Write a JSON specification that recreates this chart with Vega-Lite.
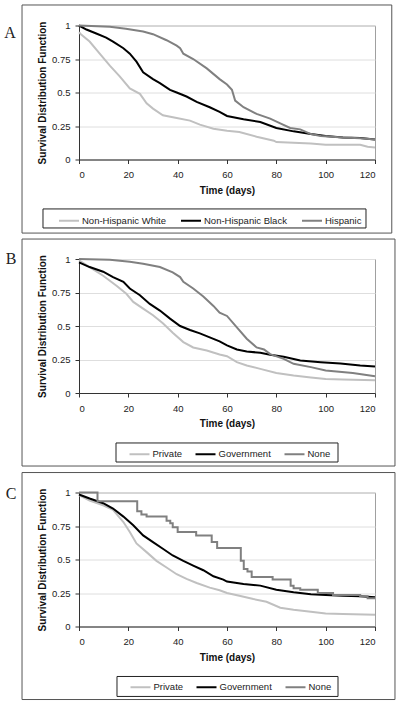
{
  "$schema": "https://vega.github.io/schema/vega-lite/v6.json",
  "autosize": {"type": "pad"},
  "padding": {"left": 3, "top": 3.5, "right": 0, "bottom": 0},
  "spacing": 3.5,
  "config": {
    "font": "Liberation Sans",
    "view": {"stroke": "#a0a0a0", "strokeWidth": 1},
    "axis": {
      "domainColor": "#333333", "tickColor": "#333333", "tickSize": 4,
      "labelFont": "Liberation Sans", "labelFontSize": 9.5, "labelColor": "#222222",
      "titleFont": "Liberation Sans", "titleFontSize": 10, "titleFontWeight": "bold", "titleColor": "#111111"
    },
    "axisX": {"grid": false, "labelPadding": 6, "titlePadding": 6},
    "axisY": {"grid": true, "gridColor": "#dedede", "labelPadding": 5, "titlePadding": 4},
    "legend": {"labelFont": "Liberation Sans", "labelFontSize": 9.5, "labelColor": "#222222"}
  },
  "resolve": {"scale": {"color": "independent"}, "legend": {"color": "independent"}},
  "datasets": {
    "A": [
      {"t":0,"s":0.95,"g":"Non-Hispanic White"},{"t":1,"s":0.93,"g":"Non-Hispanic White"},{"t":4.3,"s":0.88,"g":"Non-Hispanic White"},{"t":8.4,"s":0.79,"g":"Non-Hispanic White"},{"t":12.5,"s":0.7,"g":"Non-Hispanic White"},{"t":16.5,"s":0.62,"g":"Non-Hispanic White"},{"t":20.6,"s":0.53,"g":"Non-Hispanic White"},{"t":24.7,"s":0.49,"g":"Non-Hispanic White"},{"t":27.4,"s":0.42,"g":"Non-Hispanic White"},{"t":30,"s":0.38,"g":"Non-Hispanic White"},{"t":34,"s":0.33,"g":"Non-Hispanic White"},{"t":39.6,"s":0.31,"g":"Non-Hispanic White"},{"t":45,"s":0.29,"g":"Non-Hispanic White"},{"t":49,"s":0.26,"g":"Non-Hispanic White"},{"t":54.5,"s":0.23,"g":"Non-Hispanic White"},{"t":60,"s":0.215,"g":"Non-Hispanic White"},{"t":65,"s":0.205,"g":"Non-Hispanic White"},{"t":72,"s":0.17,"g":"Non-Hispanic White"},{"t":79,"s":0.14,"g":"Non-Hispanic White"},{"t":80,"s":0.13,"g":"Non-Hispanic White"},{"t":94,"s":0.12,"g":"Non-Hispanic White"},{"t":100,"s":0.11,"g":"Non-Hispanic White"},{"t":114,"s":0.11,"g":"Non-Hispanic White"},{"t":117,"s":0.095,"g":"Non-Hispanic White"},{"t":120,"s":0.09,"g":"Non-Hispanic White"},
      {"t":0,"s":1.0,"g":"Non-Hispanic Black"},{"t":3,"s":0.97,"g":"Non-Hispanic Black"},{"t":7,"s":0.94,"g":"Non-Hispanic Black"},{"t":11,"s":0.91,"g":"Non-Hispanic Black"},{"t":13.8,"s":0.88,"g":"Non-Hispanic Black"},{"t":18,"s":0.83,"g":"Non-Hispanic Black"},{"t":20.6,"s":0.79,"g":"Non-Hispanic Black"},{"t":23.3,"s":0.73,"g":"Non-Hispanic Black"},{"t":26,"s":0.65,"g":"Non-Hispanic Black"},{"t":30,"s":0.6,"g":"Non-Hispanic Black"},{"t":32.8,"s":0.57,"g":"Non-Hispanic Black"},{"t":36.9,"s":0.52,"g":"Non-Hispanic Black"},{"t":39.6,"s":0.5,"g":"Non-Hispanic Black"},{"t":43.6,"s":0.47,"g":"Non-Hispanic Black"},{"t":47.7,"s":0.43,"g":"Non-Hispanic Black"},{"t":53,"s":0.39,"g":"Non-Hispanic Black"},{"t":57,"s":0.355,"g":"Non-Hispanic Black"},{"t":60,"s":0.325,"g":"Non-Hispanic Black"},{"t":66.7,"s":0.3,"g":"Non-Hispanic Black"},{"t":73.5,"s":0.28,"g":"Non-Hispanic Black"},{"t":80,"s":0.235,"g":"Non-Hispanic Black"},{"t":87,"s":0.21,"g":"Non-Hispanic Black"},{"t":94,"s":0.19,"g":"Non-Hispanic Black"},{"t":100,"s":0.175,"g":"Non-Hispanic Black"},{"t":107,"s":0.165,"g":"Non-Hispanic Black"},{"t":114,"s":0.16,"g":"Non-Hispanic Black"},{"t":120,"s":0.15,"g":"Non-Hispanic Black"},
      {"t":0,"s":1.0,"g":"Hispanic"},{"t":12.5,"s":0.99,"g":"Hispanic"},{"t":19,"s":0.975,"g":"Hispanic"},{"t":26,"s":0.955,"g":"Hispanic"},{"t":30,"s":0.935,"g":"Hispanic"},{"t":35.5,"s":0.89,"g":"Hispanic"},{"t":39.6,"s":0.85,"g":"Hispanic"},{"t":41,"s":0.83,"g":"Hispanic"},{"t":42.3,"s":0.79,"g":"Hispanic"},{"t":46.3,"s":0.75,"g":"Hispanic"},{"t":51.8,"s":0.68,"g":"Hispanic"},{"t":57,"s":0.6,"g":"Hispanic"},{"t":60,"s":0.56,"g":"Hispanic"},{"t":62,"s":0.52,"g":"Hispanic"},{"t":63.3,"s":0.44,"g":"Hispanic"},{"t":66.7,"s":0.39,"g":"Hispanic"},{"t":72,"s":0.34,"g":"Hispanic"},{"t":77.5,"s":0.305,"g":"Hispanic"},{"t":81.6,"s":0.27,"g":"Hispanic"},{"t":85.6,"s":0.235,"g":"Hispanic"},{"t":89.7,"s":0.225,"g":"Hispanic"},{"t":94,"s":0.19,"g":"Hispanic"},{"t":98,"s":0.175,"g":"Hispanic"},{"t":107,"s":0.165,"g":"Hispanic"},{"t":114,"s":0.158,"g":"Hispanic"},{"t":120,"s":0.15,"g":"Hispanic"}
    ],
    "B": [
      {"t":0,"s":0.99,"g":"Private"},{"t":4.3,"s":0.94,"g":"Private"},{"t":9.8,"s":0.875,"g":"Private"},{"t":15.2,"s":0.8,"g":"Private"},{"t":19.2,"s":0.74,"g":"Private"},{"t":22,"s":0.68,"g":"Private"},{"t":26,"s":0.63,"g":"Private"},{"t":30,"s":0.58,"g":"Private"},{"t":34,"s":0.52,"g":"Private"},{"t":38,"s":0.45,"g":"Private"},{"t":42.3,"s":0.38,"g":"Private"},{"t":46.3,"s":0.34,"g":"Private"},{"t":51.8,"s":0.317,"g":"Private"},{"t":57,"s":0.287,"g":"Private"},{"t":60,"s":0.275,"g":"Private"},{"t":64,"s":0.23,"g":"Private"},{"t":68,"s":0.205,"g":"Private"},{"t":73.5,"s":0.18,"g":"Private"},{"t":80,"s":0.15,"g":"Private"},{"t":87,"s":0.13,"g":"Private"},{"t":94,"s":0.116,"g":"Private"},{"t":100,"s":0.105,"g":"Private"},{"t":107,"s":0.1,"g":"Private"},{"t":120,"s":0.095,"g":"Private"},
      {"t":0,"s":0.975,"g":"Government"},{"t":4.3,"s":0.94,"g":"Government"},{"t":9.8,"s":0.905,"g":"Government"},{"t":13.8,"s":0.865,"g":"Government"},{"t":18,"s":0.83,"g":"Government"},{"t":20.6,"s":0.78,"g":"Government"},{"t":24.7,"s":0.73,"g":"Government"},{"t":28.7,"s":0.665,"g":"Government"},{"t":32.8,"s":0.615,"g":"Government"},{"t":36.9,"s":0.555,"g":"Government"},{"t":41,"s":0.5,"g":"Government"},{"t":45,"s":0.47,"g":"Government"},{"t":49,"s":0.445,"g":"Government"},{"t":53,"s":0.415,"g":"Government"},{"t":57,"s":0.385,"g":"Government"},{"t":60,"s":0.355,"g":"Government"},{"t":64,"s":0.325,"g":"Government"},{"t":68,"s":0.31,"g":"Government"},{"t":73.5,"s":0.3,"g":"Government"},{"t":77.5,"s":0.285,"g":"Government"},{"t":83,"s":0.27,"g":"Government"},{"t":89.7,"s":0.243,"g":"Government"},{"t":98,"s":0.23,"g":"Government"},{"t":106,"s":0.22,"g":"Government"},{"t":114,"s":0.205,"g":"Government"},{"t":120,"s":0.198,"g":"Government"},
      {"t":0,"s":1.0,"g":"None"},{"t":12.5,"s":0.995,"g":"None"},{"t":20.6,"s":0.98,"g":"None"},{"t":26,"s":0.965,"g":"None"},{"t":32.8,"s":0.94,"g":"None"},{"t":38,"s":0.9,"g":"None"},{"t":41,"s":0.865,"g":"None"},{"t":42.3,"s":0.83,"g":"None"},{"t":46.3,"s":0.78,"g":"None"},{"t":50.4,"s":0.72,"g":"None"},{"t":54.5,"s":0.65,"g":"None"},{"t":57,"s":0.6,"g":"None"},{"t":60,"s":0.575,"g":"None"},{"t":64,"s":0.49,"g":"None"},{"t":68,"s":0.405,"g":"None"},{"t":72,"s":0.34,"g":"None"},{"t":75,"s":0.325,"g":"None"},{"t":77.5,"s":0.29,"g":"None"},{"t":83,"s":0.255,"g":"None"},{"t":87,"s":0.218,"g":"None"},{"t":94,"s":0.193,"g":"None"},{"t":100,"s":0.168,"g":"None"},{"t":111,"s":0.15,"g":"None"},{"t":120,"s":0.125,"g":"None"}
    ],
    "C": [
      {"t":0,"s":0.98,"g":"Private"},{"t":4.3,"s":0.94,"g":"Private"},{"t":9.8,"s":0.905,"g":"Private"},{"t":13.8,"s":0.87,"g":"Private"},{"t":18,"s":0.78,"g":"Private"},{"t":20.6,"s":0.705,"g":"Private"},{"t":23.3,"s":0.62,"g":"Private"},{"t":27.4,"s":0.555,"g":"Private"},{"t":31.4,"s":0.49,"g":"Private"},{"t":35.5,"s":0.44,"g":"Private"},{"t":39.6,"s":0.39,"g":"Private"},{"t":43.6,"s":0.355,"g":"Private"},{"t":47.7,"s":0.325,"g":"Private"},{"t":53,"s":0.29,"g":"Private"},{"t":57,"s":0.27,"g":"Private"},{"t":60,"s":0.25,"g":"Private"},{"t":65,"s":0.23,"g":"Private"},{"t":70.7,"s":0.205,"g":"Private"},{"t":76,"s":0.185,"g":"Private"},{"t":81.6,"s":0.14,"g":"Private"},{"t":87,"s":0.125,"g":"Private"},{"t":94,"s":0.11,"g":"Private"},{"t":100,"s":0.0975,"g":"Private"},{"t":107,"s":0.0925,"g":"Private"},{"t":120,"s":0.0875,"g":"Private"},
      {"t":0,"s":0.985,"g":"Government"},{"t":4.3,"s":0.955,"g":"Government"},{"t":9.8,"s":0.92,"g":"Government"},{"t":13.8,"s":0.88,"g":"Government"},{"t":18,"s":0.82,"g":"Government"},{"t":22,"s":0.755,"g":"Government"},{"t":26,"s":0.68,"g":"Government"},{"t":30,"s":0.63,"g":"Government"},{"t":34,"s":0.58,"g":"Government"},{"t":38,"s":0.53,"g":"Government"},{"t":42.3,"s":0.49,"g":"Government"},{"t":46.3,"s":0.455,"g":"Government"},{"t":50.4,"s":0.42,"g":"Government"},{"t":54.5,"s":0.375,"g":"Government"},{"t":58.5,"s":0.35,"g":"Government"},{"t":60,"s":0.335,"g":"Government"},{"t":66.7,"s":0.318,"g":"Government"},{"t":73.5,"s":0.305,"g":"Government"},{"t":80,"s":0.275,"g":"Government"},{"t":87,"s":0.255,"g":"Government"},{"t":94,"s":0.24,"g":"Government"},{"t":100,"s":0.235,"g":"Government"},{"t":107,"s":0.23,"g":"Government"},{"t":114,"s":0.225,"g":"Government"},{"t":120,"s":0.218,"g":"Government"},
      {"t":0,"s":1.0,"g":"None"},{"t":7.5,"s":0.935,"g":"None"},{"t":23.6,"s":0.86,"g":"None"},{"t":25.3,"s":0.835,"g":"None"},{"t":27.4,"s":0.82,"g":"None"},{"t":35.5,"s":0.79,"g":"None"},{"t":37,"s":0.77,"g":"None"},{"t":38,"s":0.74,"g":"None"},{"t":40,"s":0.705,"g":"None"},{"t":47.5,"s":0.68,"g":"None"},{"t":53.8,"s":0.63,"g":"None"},{"t":56,"s":0.585,"g":"None"},{"t":65.6,"s":0.49,"g":"None"},{"t":66.8,"s":0.43,"g":"None"},{"t":68.3,"s":0.41,"g":"None"},{"t":70,"s":0.37,"g":"None"},{"t":78.5,"s":0.35,"g":"None"},{"t":85.8,"s":0.305,"g":"None"},{"t":87,"s":0.285,"g":"None"},{"t":89.7,"s":0.275,"g":"None"},{"t":96.8,"s":0.25,"g":"None"},{"t":103,"s":0.235,"g":"None"},{"t":114,"s":0.225,"g":"None"},{"t":117,"s":0.21,"g":"None"},{"t":120,"s":0.21,"g":"None"}
    ]
  },
  "vconcat": [
    {
      "width": 296, "height": 134,
      "layer": [
        {
          "data": {"values": [{}]},
          "mark": {"type": "rect", "filled": false, "stroke": "#555555", "strokeWidth": 1, "clip": false},
          "encoding": {
            "x": {"datum": -23.1, "type": "quantitative", "title": "Time (days)", "axis": {"values": [0, 20, 40, 60, 80, 100, 120]}}, "x2": {"datum": 126.8},
            "y": {"datum": 1.153, "type": "quantitative", "title": "Survival Distribution Function", "axis": {"values": [0, 0.25, 0.5, 0.75, 1], "format": ".2~f"}}, "y2": {"datum": -0.549}
          }
        },
        {
          "data": {"values": [{}]},
          "mark": {"type": "rect", "filled": false, "stroke": "#222222", "strokeWidth": 1, "clip": false},
          "encoding": {
            "x": {"datum": -14.6, "type": "quantitative", "title": "Time (days)", "axis": {"values": [0, 20, 40, 60, 80, 100, 120]}}, "x2": {"datum": 116.35},
            "y": {"datum": -0.369, "type": "quantitative", "title": "Survival Distribution Function", "axis": {"values": [0, 0.25, 0.5, 0.75, 1], "format": ".2~f"}}, "y2": {"datum": -0.511}
          }
        },
        {
          "data": {"name": "A"},
          "mark": {"type": "line", "strokeWidth": 2},
          "encoding": {
            "x": {"field": "t", "type": "quantitative", "title": "Time (days)", "scale": {"domain": [0, 120], "nice": false}, "axis": {"values": [0, 20, 40, 60, 80, 100, 120]}},
            "y": {"field": "s", "type": "quantitative", "title": "Survival Distribution Function", "scale": {"domain": [0, 1], "nice": false}, "axis": {"values": [0, 0.25, 0.5, 0.75, 1], "format": ".2~f"}},
            "color": {"field": "g", "type": "nominal", "sort": null,
              "scale": {"domain": ["Non-Hispanic White", "Non-Hispanic Black", "Hispanic"], "range": ["#c0c0c0", "#000000", "#808080"]},
              "legend": {"orient": "none", "legendX": -21, "legendY": 184, "direction": "horizontal", "title": null, "symbolType": "stroke", "symbolSize": 400, "symbolStrokeWidth": 2, "labelOffset": 2, "columnPadding": 11, "padding": 0}}
          }
        },
        {
          "data": {"values": [{}]},
          "mark": {"type": "text", "font": "Liberation Serif", "fontSize": 16, "color": "#222222", "align": "center", "baseline": "middle", "clip": false},
          "encoding": {
            "x": {"datum": -28, "type": "quantitative", "title": "Time (days)", "axis": {"values": [0, 20, 40, 60, 80, 100, 120]}},
            "y": {"datum": 0.944, "type": "quantitative", "title": "Survival Distribution Function", "axis": {"values": [0, 0.25, 0.5, 0.75, 1], "format": ".2~f"}},
            "text": {"value": "A"}
          }
        }
      ]
    },
    {
      "width": 296, "height": 134,
      "layer": [
        {
          "data": {"values": [{}]},
          "mark": {"type": "rect", "filled": false, "stroke": "#555555", "strokeWidth": 1, "clip": false},
          "encoding": {
            "x": {"datum": -23.1, "type": "quantitative", "title": "Time (days)", "axis": {"values": [0, 20, 40, 60, 80, 100, 120]}}, "x2": {"datum": 128.1},
            "y": {"datum": 1.149, "type": "quantitative", "title": "Survival Distribution Function", "axis": {"values": [0, 0.25, 0.5, 0.75, 1], "format": ".2~f"}}, "y2": {"datum": -0.545}
          }
        },
        {
          "data": {"values": [{}]},
          "mark": {"type": "rect", "filled": false, "stroke": "#222222", "strokeWidth": 1, "clip": false},
          "encoding": {
            "x": {"datum": 15.0, "type": "quantitative", "title": "Time (days)", "axis": {"values": [0, 20, 40, 60, 80, 100, 120]}}, "x2": {"datum": 105.0},
            "y": {"datum": -0.373, "type": "quantitative", "title": "Survival Distribution Function", "axis": {"values": [0, 0.25, 0.5, 0.75, 1], "format": ".2~f"}}, "y2": {"datum": -0.515}
          }
        },
        {
          "data": {"name": "B"},
          "mark": {"type": "line", "strokeWidth": 2},
          "encoding": {
            "x": {"field": "t", "type": "quantitative", "title": "Time (days)", "scale": {"domain": [0, 120], "nice": false}, "axis": {"values": [0, 20, 40, 60, 80, 100, 120]}},
            "y": {"field": "s", "type": "quantitative", "title": "Survival Distribution Function", "scale": {"domain": [0, 1], "nice": false}, "axis": {"values": [0, 0.25, 0.5, 0.75, 1], "format": ".2~f"}},
            "color": {"field": "g", "type": "nominal", "sort": null,
              "scale": {"domain": ["Private", "Government", "None"], "range": ["#c0c0c0", "#000000", "#808080"]},
              "legend": {"orient": "none", "legendX": 49.5, "legendY": 184, "direction": "horizontal", "title": null, "symbolType": "stroke", "symbolSize": 400, "symbolStrokeWidth": 2, "labelOffset": 2, "columnPadding": 9, "padding": 0}}
          }
        },
        {
          "data": {"values": [{}]},
          "mark": {"type": "text", "font": "Liberation Serif", "fontSize": 16, "color": "#222222", "align": "center", "baseline": "middle", "clip": false},
          "encoding": {
            "x": {"datum": -27.5, "type": "quantitative", "title": "Time (days)", "axis": {"values": [0, 20, 40, 60, 80, 100, 120]}},
            "y": {"datum": 1.0, "type": "quantitative", "title": "Survival Distribution Function", "axis": {"values": [0, 0.25, 0.5, 0.75, 1], "format": ".2~f"}},
            "text": {"value": "B"}
          }
        }
      ]
    },
    {
      "width": 296, "height": 134,
      "layer": [
        {
          "data": {"values": [{}]},
          "mark": {"type": "rect", "filled": false, "stroke": "#555555", "strokeWidth": 1, "clip": false},
          "encoding": {
            "x": {"datum": -23.1, "type": "quantitative", "title": "Time (days)", "axis": {"values": [0, 20, 40, 60, 80, 100, 120]}}, "x2": {"datum": 128.1},
            "y": {"datum": 1.149, "type": "quantitative", "title": "Survival Distribution Function", "axis": {"values": [0, 0.25, 0.5, 0.75, 1], "format": ".2~f"}}, "y2": {"datum": -0.545}
          }
        },
        {
          "data": {"values": [{}]},
          "mark": {"type": "rect", "filled": false, "stroke": "#222222", "strokeWidth": 1, "clip": false},
          "encoding": {
            "x": {"datum": 15.4, "type": "quantitative", "title": "Time (days)", "axis": {"values": [0, 20, 40, 60, 80, 100, 120]}}, "x2": {"datum": 105.0},
            "y": {"datum": -0.373, "type": "quantitative", "title": "Survival Distribution Function", "axis": {"values": [0, 0.25, 0.5, 0.75, 1], "format": ".2~f"}}, "y2": {"datum": -0.522}
          }
        },
        {
          "data": {"name": "C"},
          "transform": [{"filter": "datum.g !== 'None'"}],
          "mark": {"type": "line", "strokeWidth": 2},
          "encoding": {
            "x": {"field": "t", "type": "quantitative", "title": "Time (days)", "scale": {"domain": [0, 120], "nice": false}, "axis": {"values": [0, 20, 40, 60, 80, 100, 120]}},
            "y": {"field": "s", "type": "quantitative", "title": "Survival Distribution Function", "scale": {"domain": [0, 1], "nice": false}, "axis": {"values": [0, 0.25, 0.5, 0.75, 1], "format": ".2~f"}},
            "color": {"field": "g", "type": "nominal", "sort": null,
              "scale": {"domain": ["Private", "Government", "None"], "range": ["#c0c0c0", "#000000", "#808080"]},
              "legend": {"orient": "none", "legendX": 50.5, "legendY": 183.5, "direction": "horizontal", "title": null, "symbolType": "stroke", "symbolSize": 400, "symbolStrokeWidth": 2, "labelOffset": 2, "columnPadding": 9, "padding": 0}}
          }
        },
        {
          "data": {"name": "C"},
          "transform": [{"filter": "datum.g === 'None'"}],
          "mark": {"type": "line", "strokeWidth": 2, "interpolate": "step-after"},
          "encoding": {
            "x": {"field": "t", "type": "quantitative", "title": "Time (days)", "axis": {"values": [0, 20, 40, 60, 80, 100, 120]}},
            "y": {"field": "s", "type": "quantitative", "title": "Survival Distribution Function", "axis": {"values": [0, 0.25, 0.5, 0.75, 1], "format": ".2~f"}},
            "color": {"field": "g", "type": "nominal", "sort": null,
              "scale": {"domain": ["Private", "Government", "None"], "range": ["#c0c0c0", "#000000", "#808080"]},
              "legend": {"orient": "none", "legendX": 50.5, "legendY": 183.5, "direction": "horizontal", "title": null, "symbolType": "stroke", "symbolSize": 400, "symbolStrokeWidth": 2, "labelOffset": 2, "columnPadding": 9, "padding": 0}}
          }
        },
        {
          "data": {"values": [{}]},
          "mark": {"type": "text", "font": "Liberation Serif", "fontSize": 16, "color": "#222222", "align": "center", "baseline": "middle", "clip": false},
          "encoding": {
            "x": {"datum": -27.5, "type": "quantitative", "title": "Time (days)", "axis": {"values": [0, 20, 40, 60, 80, 100, 120]}},
            "y": {"datum": 0.987, "type": "quantitative", "title": "Survival Distribution Function", "axis": {"values": [0, 0.25, 0.5, 0.75, 1], "format": ".2~f"}},
            "text": {"value": "C"}
          }
        }
      ]
    }
  ]
}
